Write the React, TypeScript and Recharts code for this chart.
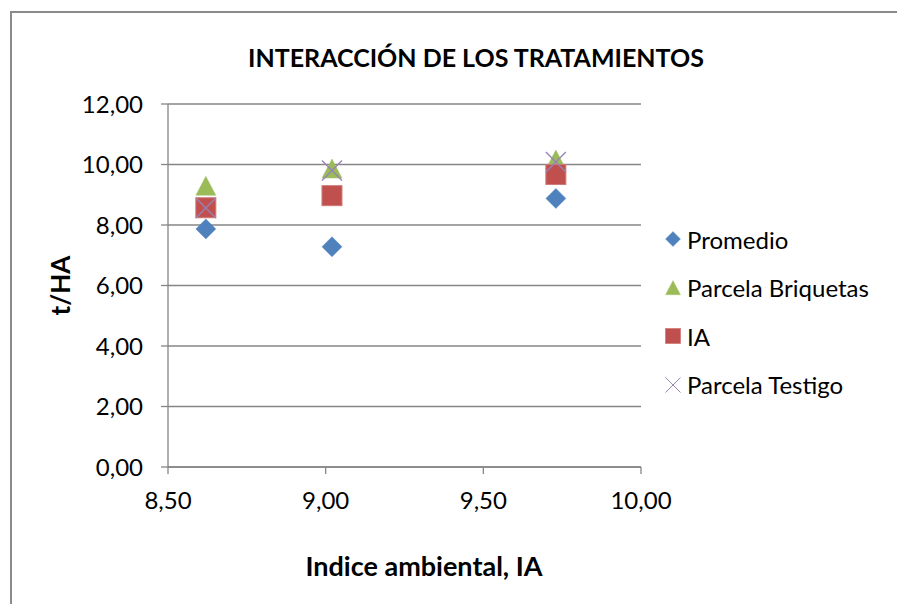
import { ScatterChart, Scatter, XAxis, YAxis, CartesianGrid } from "recharts";

// x positions (Indice ambiental) shared by every series
const xValues = [8.62, 9.02, 9.73];

// t/HA per series
const promedio = [7.87, 7.28, 8.88];
const briquetas = [9.28, 9.85, 10.15];
const ia = [8.57, 8.97, 9.67];
const testigo = [8.56, 9.8, 10.08];

const xTicks = [8.5, 9, 9.5, 10];
const yTicks = [0, 2, 4, 6, 8, 10, 12];

const FONT = "Lato, 'Open Sans', sans-serif";
const GRID = "#868686";

const fmt = (v: number) => v.toFixed(2).replace(".", ",");

const Diamond = ({ cx, cy }: any) => (
  <path d={`M${cx},${cy - 10}L${cx + 10},${cy}L${cx},${cy + 10}L${cx - 10},${cy}Z`} fill="#4F81BD" stroke="#5b8cc6" strokeWidth={0.5} />
);
const Triangle = ({ cx, cy }: any) => (
  <path d={`M${cx},${cy - 10}L${cx + 10},${cy + 9}L${cx - 10},${cy + 9}Z`} fill="#9BBB59" stroke="#a6c46a" strokeWidth={0.5} />
);
const Square = ({ cx, cy }: any) => (
  <rect x={cx - 10} y={cy - 10} width={20} height={20} fill="#C0504D" stroke="#cf7a78" strokeWidth={1} />
);
const Cross = ({ cx, cy }: any) => (
  <g stroke="#9783b5" strokeWidth={1.3}>
    <line x1={cx - 10} y1={cy - 10} x2={cx + 10} y2={cy + 10} />
    <line x1={cx - 10} y1={cy + 10} x2={cx + 10} y2={cy - 10} />
  </g>
);

const series = [
  { name: "Promedio", values: promedio, shape: Diamond },
  { name: "Parcela Briquetas", values: briquetas, shape: Triangle },
  { name: "IA", values: ia, shape: Square },
  { name: "Parcela Testigo", values: testigo, shape: Cross },
];

const toPoints = (vals: number[]) => xValues.map((x, i) => ({ x, y: vals[i] }));

export default function App() {
  return (
    <div style={{ position: "absolute", left: 0, top: 0, width: 897, height: 604, overflow: "hidden", background: "#fff", fontFamily: FONT }}>
      <div style={{ position: "absolute", left: 10, top: 11, width: 1000, height: 1000, border: "2px solid #8a8a8a" }} />
      <div style={{ position: "absolute", left: 0, width: 952, top: 42, textAlign: "center", fontWeight: 700, fontSize: 25, color: "#000" }}>
        INTERACCIÓN DE LOS TRATAMIENTOS
      </div>
      <div style={{ position: "absolute", left: 0, width: 848, top: 549, textAlign: "center", fontWeight: 700, fontSize: 27, color: "#000" }}>
        Indice ambiental, IA
      </div>
      <ScatterChart width={897} height={604} margin={{ top: 104, right: 256, bottom: 0, left: 0 }} style={{ position: "absolute", left: 0, top: 0 }}>
        <CartesianGrid horizontal vertical={false} stroke={GRID} strokeWidth={1.3} />
        <XAxis
          type="number"
          dataKey="x"
          domain={[8.5, 10]}
          ticks={xTicks}
          tickFormatter={fmt}
          axisLine={{ stroke: GRID, strokeWidth: 1.3 }}
          tickLine={{ stroke: GRID, strokeWidth: 1.3 }}
          tickSize={7}
          tickMargin={18}
          tick={{ fill: "#000", fontSize: 24, fontFamily: FONT }}
          height={137}
        />
        <YAxis
          type="number"
          dataKey="y"
          domain={[0, 12]}
          ticks={yTicks}
          tickFormatter={fmt}
          axisLine={{ stroke: GRID, strokeWidth: 1.3 }}
          tickLine={{ stroke: GRID, strokeWidth: 1.3 }}
          tickSize={7}
          tickMargin={18}
          tick={{ fill: "#000", fontSize: 24, fontFamily: FONT }}
          width={168}
          label={{
            content: ({ viewBox }: any) => (
              <text
                x={60}
                y={viewBox.y + viewBox.height / 2}
                transform={`rotate(-90, 60, ${viewBox.y + viewBox.height / 2})`}
                textAnchor="middle"
                dominantBaseline="central"
                fontSize={26}
                fontWeight={700}
                fontFamily={FONT}
                fill="#000"
              >
                t/HA
              </text>
            ),
          }}
        />
        {series.map((s) => (
          <Scatter key={s.name} name={s.name} data={toPoints(s.values)} shape={s.shape} isAnimationActive={false} />
        ))}
      </ScatterChart>
      <div style={{ position: "absolute", left: 662, top: 215 }}>
        {series.map((s) => {
          const Shape = s.shape;
          return (
            <div key={s.name} style={{ display: "flex", alignItems: "center", height: 48.5, fontSize: 24, color: "#000" }}>
              <svg width={22} height={22} style={{ marginRight: 3 }}>
                <g transform="translate(11,11) scale(0.75) translate(-11,-11)">
                  <Shape cx={11} cy={11} />
                </g>
              </svg>
              <span>{s.name}</span>
            </div>
          );
        })}
      </div>
    </div>
  );
}
